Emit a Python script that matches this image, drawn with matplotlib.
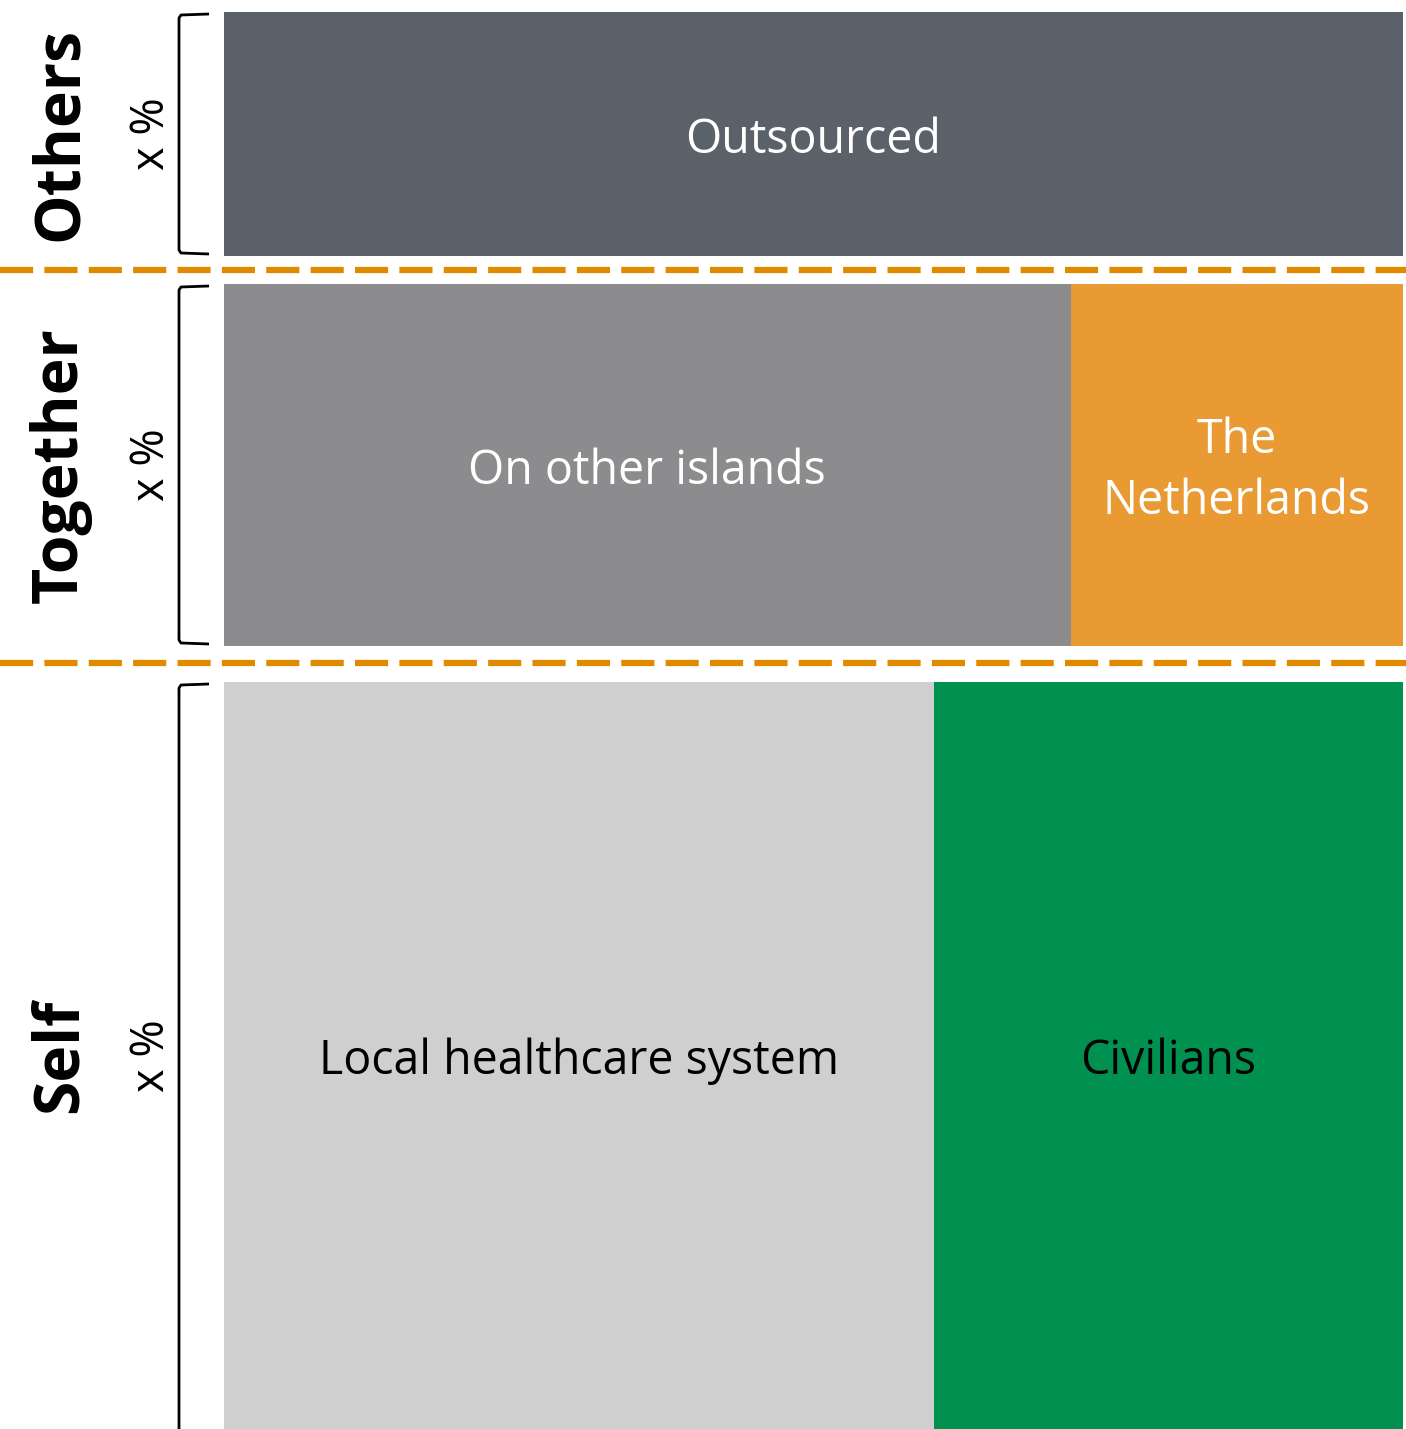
import matplotlib
matplotlib.use("Agg")
import matplotlib.pyplot as plt

# ── Data ──────────────────────────────────────────────────────────────────────
groups = ["Others", "Together", "Self"]
group_labels = ["x %", "x %", "x %"]
row_heights = [244, 362, 747]          # relative row heights (px units)

segments = [
    ["Outsourced"],
    ["On other islands", "The\nNetherlands"],
    ["Local healthcare system", "Civilians"],
]
shares = [
    [1.0],
    [0.718, 0.282],
    [0.602, 0.398],
]
seg_colors = [
    ["#5b6168"],
    ["#8c8c8e", "#ea9a32"],
    ["#cfcfcf", "#009050"],
]
text_colors = [
    ["white"],
    ["white", "white"],
    ["black", "black"],
]

# ── Layout (pixel-like units) ─────────────────────────────────────────────────
W, H = 1406, 1429
BAR_LEFT, BAR_RIGHT = 224, 1403
row_tops = [12, 284, 682]
dash_y = [270, 663]
FONT = ["Open Sans", "DejaVu Sans"]

fig = plt.figure(figsize=(W / 100, H / 100), dpi=100)
ax = fig.add_axes([0, 0, 1, 1])
ax.set_xlim(0, W)
ax.set_ylim(H, 0)
ax.axis("off")

span = BAR_RIGHT - BAR_LEFT
for i, grp in enumerate(groups):
    top, h = row_tops[i], row_heights[i]
    yc = top + h / 2
    left = BAR_LEFT
    for lab, sh, col, tc in zip(segments[i], shares[i], seg_colors[i], text_colors[i]):
        w = sh * span
        ax.barh(yc, w, height=h, left=left, color=col, edgecolor="none")
        ax.text(left + w / 2, yc + 6, lab, color=tc, ha="center", va="center",
                fontsize=33.5, family=FONT, linespacing=1.38)
        left += w

    # bracket (the last one runs off the bottom edge)
    b_top = top + 2
    b_bot = top + h - 2 if i < len(groups) - 1 else H + 20
    ax.plot([209, 181, 179, 179, 181, 209],
            [b_top, b_top + 1, b_top + 4, b_bot - 4, b_bot - 1, b_bot],
            color="black", linewidth=2, solid_capstyle="butt")

    # group name + share
    ax.text(60, yc, grp, rotation=90, ha="center", va="center",
            fontsize=45, fontweight="bold", family=FONT)
    ax.text(152, yc, group_labels[i], rotation=90, ha="center", va="center",
            fontsize=32.5, family=FONT)

for y in dash_y:
    ax.plot([0, W], [y, y], color="#e08a00", linewidth=4.5,
            dashes=(5.3, 1.8), solid_capstyle="butt")

fig.savefig("out.png", dpi=100)
